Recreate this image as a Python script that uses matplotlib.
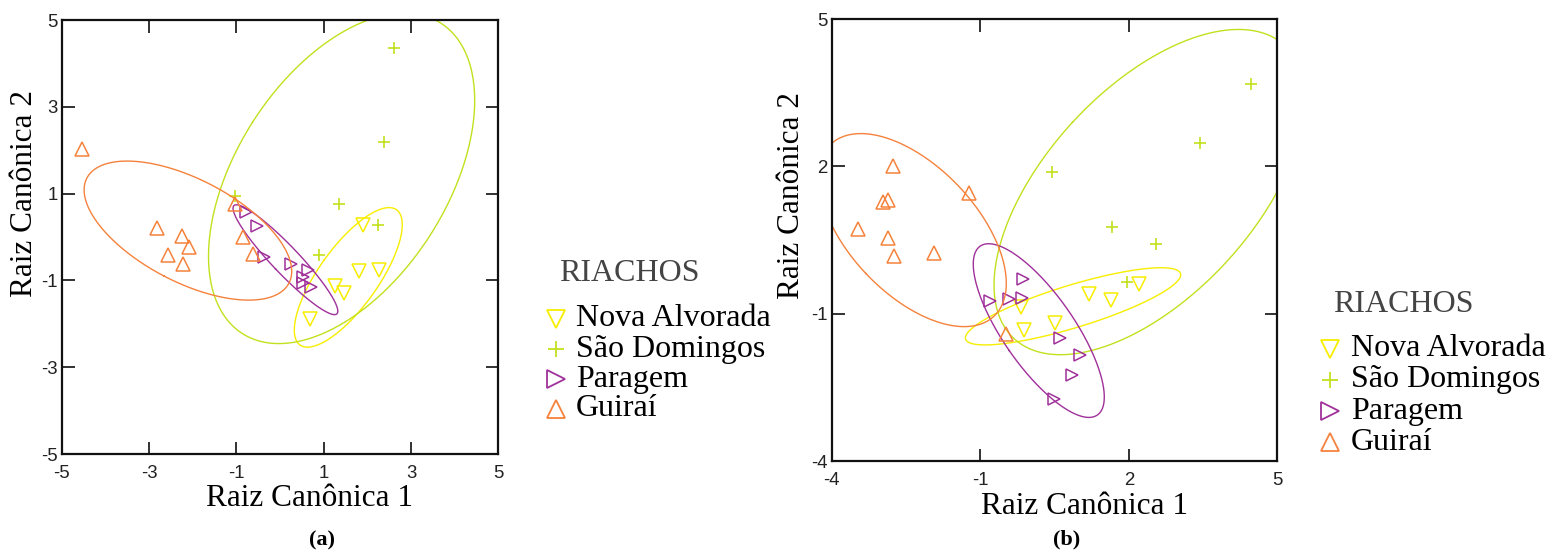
import numpy as np
import matplotlib.pyplot as plt
from matplotlib.lines import Line2D

# scores on the two canonical roots, per stream
riachos = ['Nova Alvorada', 'São Domingos', 'Paragem', 'Guiraí']
cores = ['#f7ee00', '#c3e01e', '#a0309a', '#f5823c']
marcadores = ['v', '+', '>', '^']

# (a)
a_nova_x = [1.91, 1.80, 2.26, 1.25, 1.47, 0.69]
a_nova_y = [0.27, -0.78, -0.76, -1.12, -1.30, -1.89]
a_sao_x = [2.61, 2.39, 1.35, 2.24, 0.90, -1.03]
a_sao_y = [4.35, 2.20, 0.75, 0.28, -0.41, 0.94]
a_par_x = [-0.78, -0.53, -0.38, 0.26, 0.65, 0.53, 0.53, 0.70]
a_par_y = [0.57, 0.25, -0.45, -0.63, -0.77, -0.93, -1.07, -1.15]
a_gui_x = [-4.55, -2.82, -2.25, -2.09, -2.57, -2.22, -1.03, -0.85, -0.63]
a_gui_y = [2.02, 0.21, 0.02, -0.24, -0.41, -0.63, 0.76, -0.01, -0.39]

# (b)
b_nova_x = [2.21, 1.19, 1.65, -0.18, 0.50, -0.12]
b_nova_y = [-0.40, -0.59, -0.72, -0.87, -1.18, -1.32]
b_sao_x = [4.46, 3.43, 0.45, 1.66, 2.54, 1.97]
b_sao_y = [3.68, 2.47, 1.88, 0.76, 0.43, -0.35]
b_par_x = [-0.13, -0.81, -0.42, -0.15, 0.61, 1.02, 0.85, 0.49]
b_par_y = [-0.30, -0.74, -0.70, -0.67, -1.50, -1.84, -2.24, -2.73]
b_gui_x = [-2.76, -1.23, -2.97, -2.86, -3.46, -2.86, -2.75, -1.94, -0.48]
b_gui_y = [2.01, 1.46, 1.27, 1.32, 0.73, 0.55, 0.17, 0.23, -1.40]

nivel = 0.75  # coverage of the Hotelling ellipses

plt.rcParams['font.family'] = ['Liberation Sans', 'DejaVu Sans']
plt.rcParams['axes.unicode_minus'] = False
serif = ['Liberation Serif', 'DejaVu Serif']


def elipse(x, y, lim):
    x = np.asarray(x)
    y = np.asarray(y)
    n = len(x)
    m = n - 2
    f = m / 2 * ((1 - nivel) ** (-2 / m) - 1)
    k = np.sqrt(2 * (n - 1) / m * f)
    cov = np.cov(x, y)
    w, v = np.linalg.eigh(cov)
    t = np.linspace(0, 2 * np.pi, 400)
    pts = v @ (np.sqrt(w)[:, None] * np.vstack([np.cos(t), np.sin(t)])) * k
    # parts outside the frame are pressed onto the border
    ex = np.clip(pts[0] + x.mean(), lim[0], lim[1])
    ey = np.clip(pts[1] + y.mean(), lim[0], lim[1])
    return ex, ey


def painel(ax, grupos, lim, ticks, ylab_x):
    for (x, y), c, mk in zip(grupos, cores, marcadores):
        ex, ey = elipse(x, y, lim)
        ax.plot(ex, ey, color=c, lw=1.0)
        if mk == '+':
            ax.plot(x, y, ls='none', marker=mk, ms=8, mew=1.2, color=c)
        else:
            ms = 9 if mk == '>' else 10.5
            ax.plot(x, y, ls='none', marker=mk, ms=ms, mew=1.1,
                    mfc='none', mec=c)
    ax.set_xlim(lim)
    ax.set_ylim(lim)
    ax.set_xticks(ticks)
    ax.set_yticks(ticks)
    ax.tick_params(direction='in', length=9, width=1.3, top=True,
                   right=True, labelsize=13.4, colors='#222222')
    ax.tick_params(axis='x', pad=8)
    ax.tick_params(axis='y', pad=3)
    for s in ax.spines.values():
        s.set_linewidth(1.6)
        s.set_color('#111111')
    ax.set_xlabel('Raiz Canônica 1', family=serif, fontsize=22.5)
    ax.set_ylabel('Raiz Canônica 2', family=serif, fontsize=22.5)
    ax.xaxis.set_label_coords(0.567, -0.07)
    ax.yaxis.set_label_coords(ylab_x, 0.6)


def legenda(tx, ty, mx, lx, ys):
    W, H = fig.get_size_inches() * fig.dpi
    fig.text(tx / W, 1 - ty / H, 'RIACHOS', family=serif, fontsize=23,
             color='#444444', ha='left', va='center')
    for nome, c, mk, y in zip(riachos, cores, marcadores, ys):
        if mk == '+':
            h = Line2D([mx / W], [1 - y / H], transform=fig.transFigure,
                       ls='none', marker=mk, ms=12, mew=1.3, color=c)
        else:
            h = Line2D([mx / W], [1 - y / H], transform=fig.transFigure,
                       ls='none', marker=mk, ms=12.5, mew=1.3,
                       mfc='none', mec=c)
        fig.add_artist(h)
        fig.text(lx / W, 1 - y / H, nome, family=serif, fontsize=23,
                 ha='left', va='center')


fig = plt.figure(figsize=(15.56, 5.51), dpi=100)
ax1 = fig.add_axes([0.0398, 0.176, 0.2804, 0.7877])
ax2 = fig.add_axes([0.5345, 0.1628, 0.2864, 0.8027])

painel(ax1, [(a_nova_x, a_nova_y), (a_sao_x, a_sao_y),
             (a_par_x, a_par_y), (a_gui_x, a_gui_y)],
       (-5, 5), [-5, -3, -1, 1, 3, 5], -0.053)
painel(ax2, [(b_nova_x, b_nova_y), (b_sao_x, b_sao_y),
             (b_par_x, b_par_y), (b_gui_x, b_gui_y)],
       (-4, 5), [-4, -1, 2, 5], -0.058)

legenda(559, 274, 556, 576, [319, 349, 379, 409])
legenda(1333, 304, 1330, 1351, [349, 380, 411, 442])

fig.text(322 / 1556, 1 - 540 / 551, '(a)', family=serif, fontweight='bold',
         fontsize=16, ha='center', va='center')
fig.text(1067 / 1556, 1 - 539 / 551, '(b)', family=serif, fontweight='bold',
         fontsize=16, ha='center', va='center')

fig.savefig('out.png', dpi=100)
